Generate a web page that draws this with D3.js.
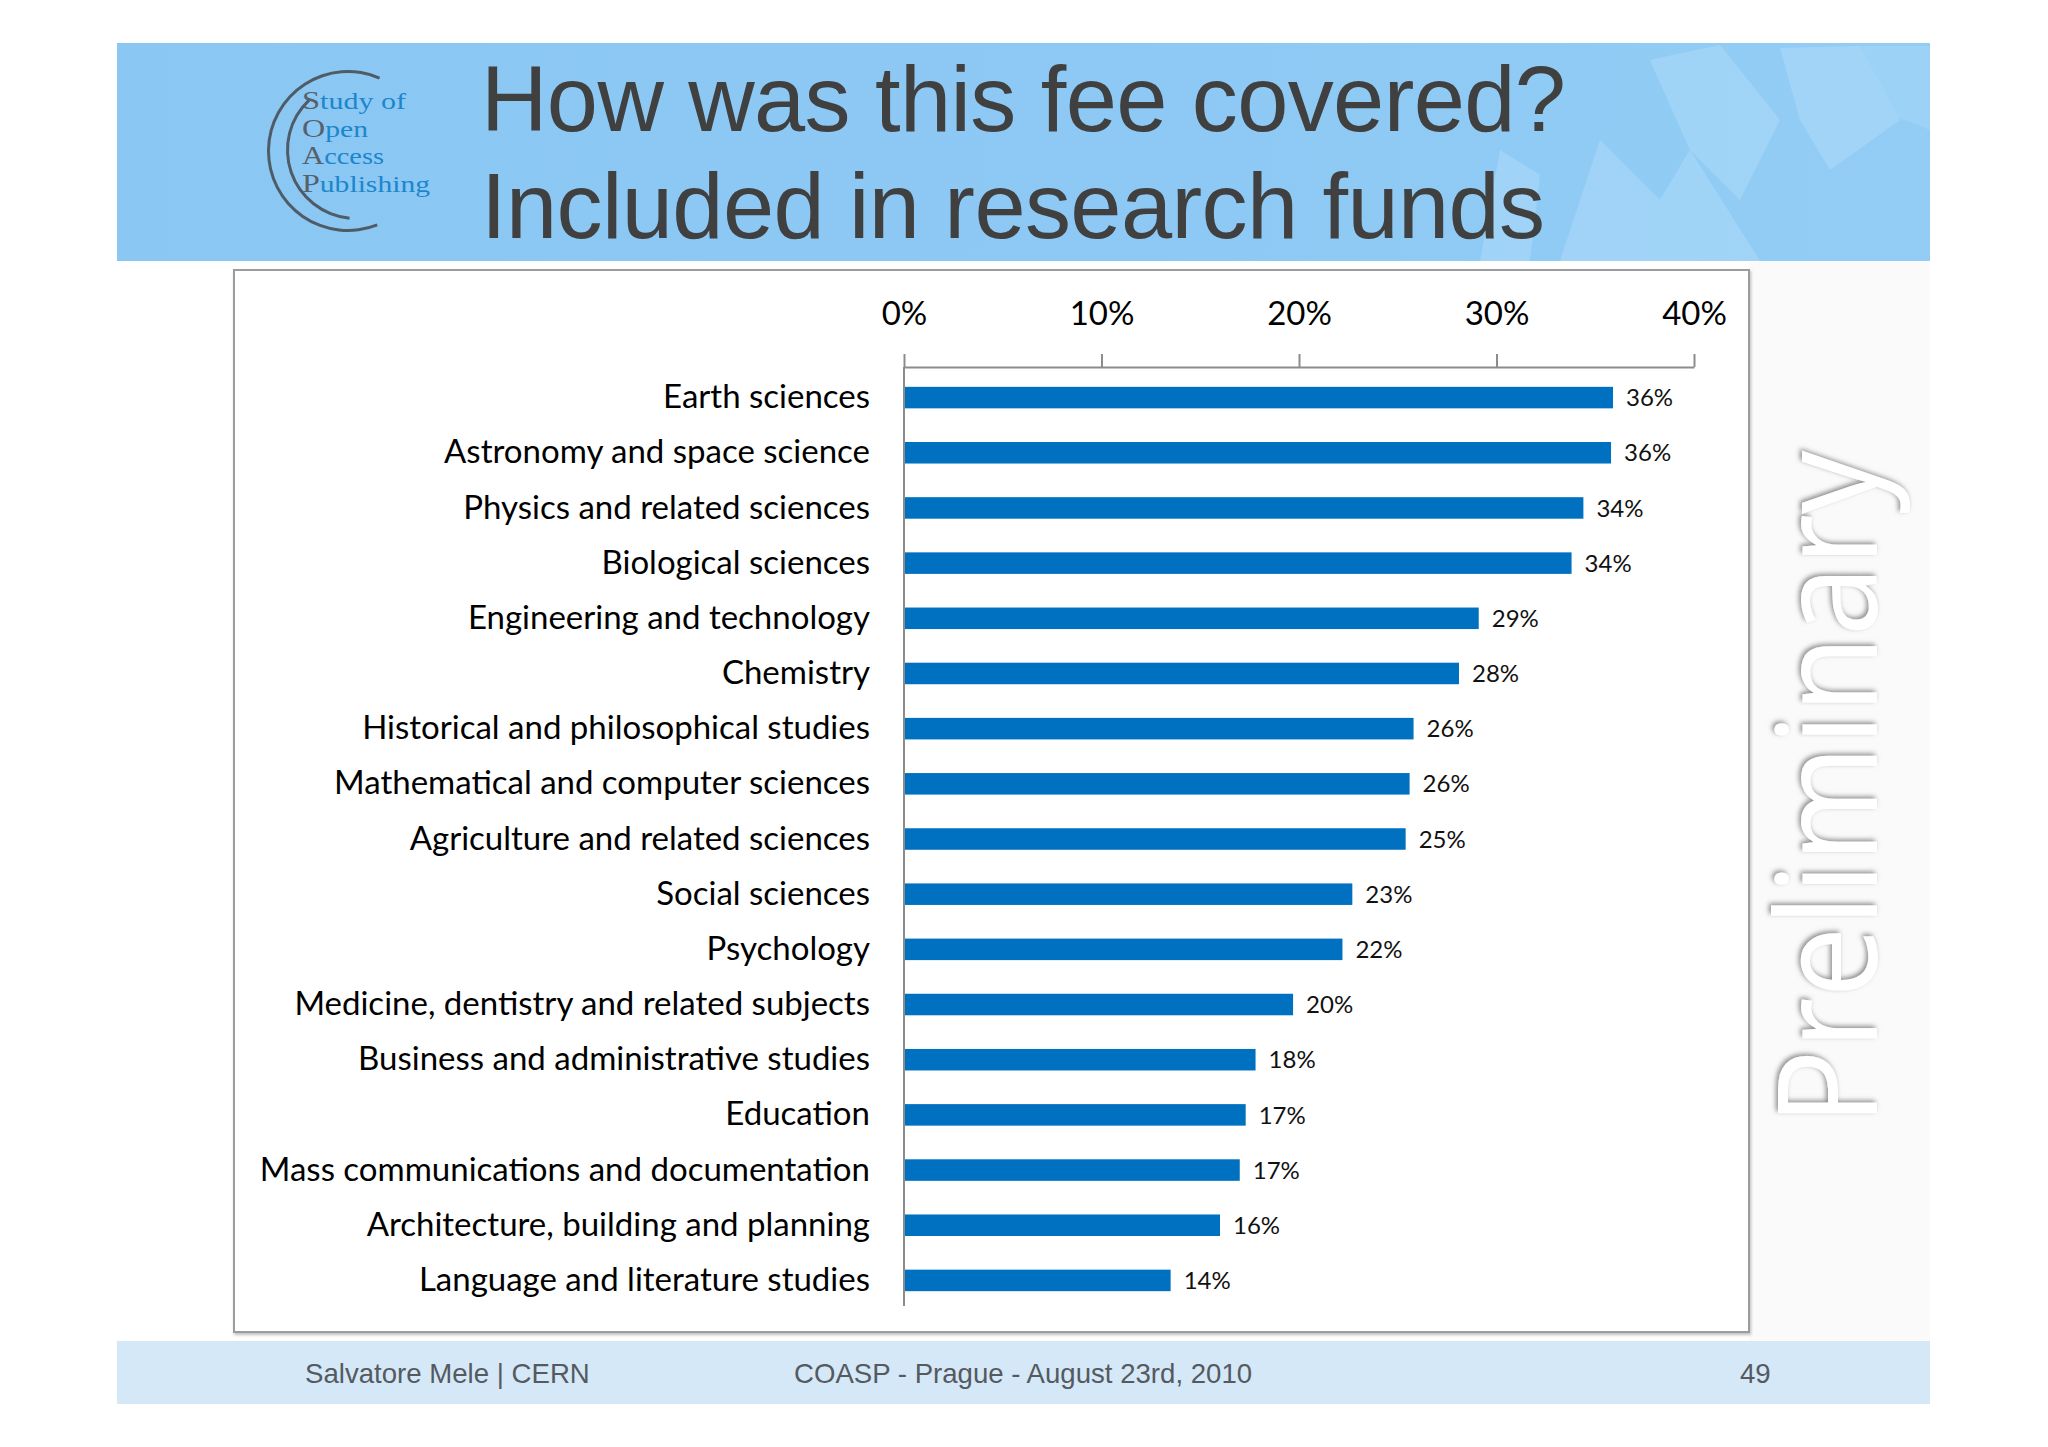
<!DOCTYPE html>
<html>
<head>
<meta charset="utf-8">
<script src="https://cdn.jsdelivr.net/npm/d3@7"></script>
<style>
  html, body { margin: 0; padding: 0; background: #ffffff; }
  svg { display: block; }
</style>
</head>
<body>
<svg id="chart" width="2048" height="1447"></svg>
<script>
// ---------------- data ----------------
const titleLines = ["How was this fee covered?", "Included in research funds"];
const categories = [
  "Earth sciences",
  "Astronomy and space science",
  "Physics and related sciences",
  "Biological sciences",
  "Engineering and technology",
  "Chemistry",
  "Historical and philosophical studies",
  "Mathematical and computer sciences",
  "Agriculture and related sciences",
  "Social sciences",
  "Psychology",
  "Medicine, dentistry and related subjects",
  "Business and administrative studies",
  "Education",
  "Mass communications and documentation",
  "Architecture, building and planning",
  "Language and literature studies"
];
const values = [35.9, 35.8, 34.4, 33.8, 29.1, 28.1, 25.8, 25.6, 25.4, 22.7, 22.2, 19.7, 17.8, 17.3, 17.0, 16.0, 13.5];
const valueLabels = ["36%", "36%", "34%", "34%", "29%", "28%", "26%", "26%", "25%", "23%", "22%", "20%", "18%", "17%", "17%", "16%", "14%"];
const tickValues = [0, 10, 20, 30, 40];
const tickLabels = ["0%", "10%", "20%", "30%", "40%"];
const logoWords = [["S", "tudy of"], ["O", "pen"], ["A", "ccess"], ["P", "ublishing"]];
const footerTexts = ["Salvatore Mele | CERN", "COASP - Prague - August 23rd, 2010", "49"];
const watermark = "Preliminary";

// ---------------- drawing ----------------
const svg = d3.select("#chart");
const defs = svg.append("defs");

const hg = defs.append("linearGradient").attr("id", "hdr").attr("x1", 0).attr("x2", 1);
hg.append("stop").attr("offset", "0").attr("stop-color", "#8bc7f3");
hg.append("stop").attr("offset", "0.6").attr("stop-color", "#8dc9f4");
hg.append("stop").attr("offset", "1").attr("stop-color", "#93cdf5");

const shadow = defs.append("filter").attr("id", "wmShadow")
  .attr("x", "-10%").attr("y", "-10%").attr("width", "120%").attr("height", "120%");
shadow.append("feDropShadow").attr("dx", 2).attr("dy", -2).attr("stdDeviation", 2.5)
  .attr("flood-color", "#6f6f6f").attr("flood-opacity", 0.8);

const boxShadow = defs.append("filter").attr("id", "boxShadow")
  .attr("x", "-2%").attr("y", "-2%").attr("width", "104%").attr("height", "104%");
boxShadow.append("feDropShadow").attr("dx", 1).attr("dy", 2).attr("stdDeviation", 1.5)
  .attr("flood-color", "#000").attr("flood-opacity", 0.25);

// light right-hand background
svg.append("rect").attr("x", 1749).attr("y", 262).attr("width", 181).attr("height", 1079).attr("fill", "#fafafb");

// header band
svg.append("rect").attr("x", 117).attr("y", 43).attr("width", 1813).attr("height", 218).attr("fill", "url(#hdr)");
// decorative lighter shapes on the right of the header
const deco = svg.append("g").attr("fill", "#b4defb").attr("opacity", 0.45);
deco.append("path").attr("d", "M1560,261 L1600,140 L1660,200 L1690,150 L1760,261 Z");
deco.append("path").attr("d", "M1650,60 L1720,45 L1780,120 L1740,200 L1690,150 Z");
deco.append("path").attr("d", "M1780,48 L1860,46 L1900,120 L1830,170 L1800,120 Z");
deco.append("path").attr("d", "M1480,261 L1500,150 L1540,175 L1530,261 Z");
deco.append("path").attr("d", "M1850,46 L1930,46 L1930,130 L1880,110 Z").attr("opacity", 0.7);

// logo
const logo = svg.append("g");
const arc = d3.arc();
logo.append("path")
  .attr("transform", "translate(348,151)")
  .attr("d", arc({innerRadius: 78, outerRadius: 81, startAngle: Math.PI * 0.13, endAngle: -Math.PI * 1.12}))
  .attr("fill", "#4f5b66");
logo.append("path")
  .attr("transform", "translate(356,150)")
  .attr("d", arc({innerRadius: 67, outerRadius: 70, startAngle: -Math.PI * 0.24, endAngle: -Math.PI * 0.97}))
  .attr("fill", "#4f5b66");
const logoWidths = [104, 66, 82, 128];
logoWords.forEach((w, i) => {
  const t = logo.append("text")
    .attr("x", 302).attr("y", 109 + i * 27.5)
    .attr("font-family", "'Liberation Serif', 'DejaVu Serif', serif")
    .attr("font-size", 24)
    .attr("textLength", logoWidths[i]).attr("lengthAdjust", "spacingAndGlyphs");
  t.append("tspan").attr("fill", "#56616c").attr("font-size", 26).text(w[0]);
  t.append("tspan").attr("fill", "#1c86cc").text(w[1]);
});

// title
svg.append("g").selectAll("text").data(titleLines).join("text")
  .attr("x", 481).attr("y", (d, i) => 131 + i * 107)
  .attr("font-family", "'Liberation Sans', Arial, sans-serif")
  .attr("font-size", 92).attr("letter-spacing", -0.6).attr("fill", "#404040")
  .text(d => d);

// chart box
svg.append("rect").attr("x", 234).attr("y", 270).attr("width", 1515).attr("height", 1062)
  .attr("fill", "#ffffff").attr("stroke", "#9c9c9c").attr("stroke-width", 2)
  .attr("filter", "url(#boxShadow)");

// scales
const x = d3.scaleLinear().domain([0, 40]).range([904, 1694]);
const y = d3.scaleBand().domain(categories).range([370, 1308]).paddingInner(0.61).paddingOuter(0.305);

// bars
svg.append("g").selectAll("rect").data(categories).join("rect")
  .attr("x", x(0))
  .attr("y", d => y(d))
  .attr("width", (d, i) => x(values[i]) - x(0))
  .attr("height", y.bandwidth())
  .attr("fill", "#0070c0");

// value labels
svg.append("g").selectAll("text").data(categories).join("text")
  .attr("x", (d, i) => x(values[i]) + 13)
  .attr("y", d => y(d) + y.bandwidth() / 2)
  .attr("dy", "0.36em")
  .attr("font-family", "Lato, 'Open Sans', sans-serif")
  .attr("font-size", 24).attr("fill", "#111")
  .text((d, i) => valueLabels[i]);

// top axis
const xAxis = d3.axisTop(x).tickValues(tickValues).tickFormat((d, i) => tickLabels[i])
  .tickSize(13).tickSizeOuter(0).tickPadding(29);
const gx = svg.append("g").attr("transform", "translate(0,367)").call(xAxis);
gx.select(".domain").attr("stroke", "#8c8c8c").attr("stroke-width", 2);
gx.selectAll(".tick line").attr("stroke", "#8c8c8c").attr("stroke-width", 2);
gx.selectAll(".tick text").attr("font-family", "Lato, 'Open Sans', sans-serif")
  .attr("font-size", 33).attr("fill", "#000");

// left category axis
const yAxis = d3.axisLeft(y).tickSize(0).tickPadding(34);
const gy = svg.append("g").attr("transform", `translate(${x(0)},0)`).call(yAxis);
gy.select(".domain").attr("d", `M0,367V1306`).attr("stroke", "#8c8c8c").attr("stroke-width", 2);
gy.selectAll(".tick text").attr("font-family", "Lato, 'Open Sans', sans-serif")
  .attr("font-size", 33).attr("fill", "#000");

// watermark
svg.append("text")
  .attr("transform", "translate(1877,788) rotate(-90)")
  .attr("text-anchor", "middle")
  .attr("font-family", "'Open Sans', 'Noto Sans', sans-serif")
  .attr("font-size", 140)
  .attr("textLength", 675).attr("lengthAdjust", "spacingAndGlyphs")
  .attr("fill", "#ffffff")
  .attr("filter", "url(#wmShadow)")
  .text(watermark);

// footer band
svg.append("rect").attr("x", 117).attr("y", 1341).attr("width", 1813).attr("height", 63).attr("fill", "#d4e8f8");
const fx = [305, 794, 1740];
svg.append("g").selectAll("text").data(footerTexts).join("text")
  .attr("x", (d, i) => fx[i]).attr("y", 1383)
  .attr("font-family", "'Liberation Sans', Arial, sans-serif")
  .attr("font-size", 27.6).attr("fill", "#555a60")
  .text(d => d);
</script>
</body>
</html>
